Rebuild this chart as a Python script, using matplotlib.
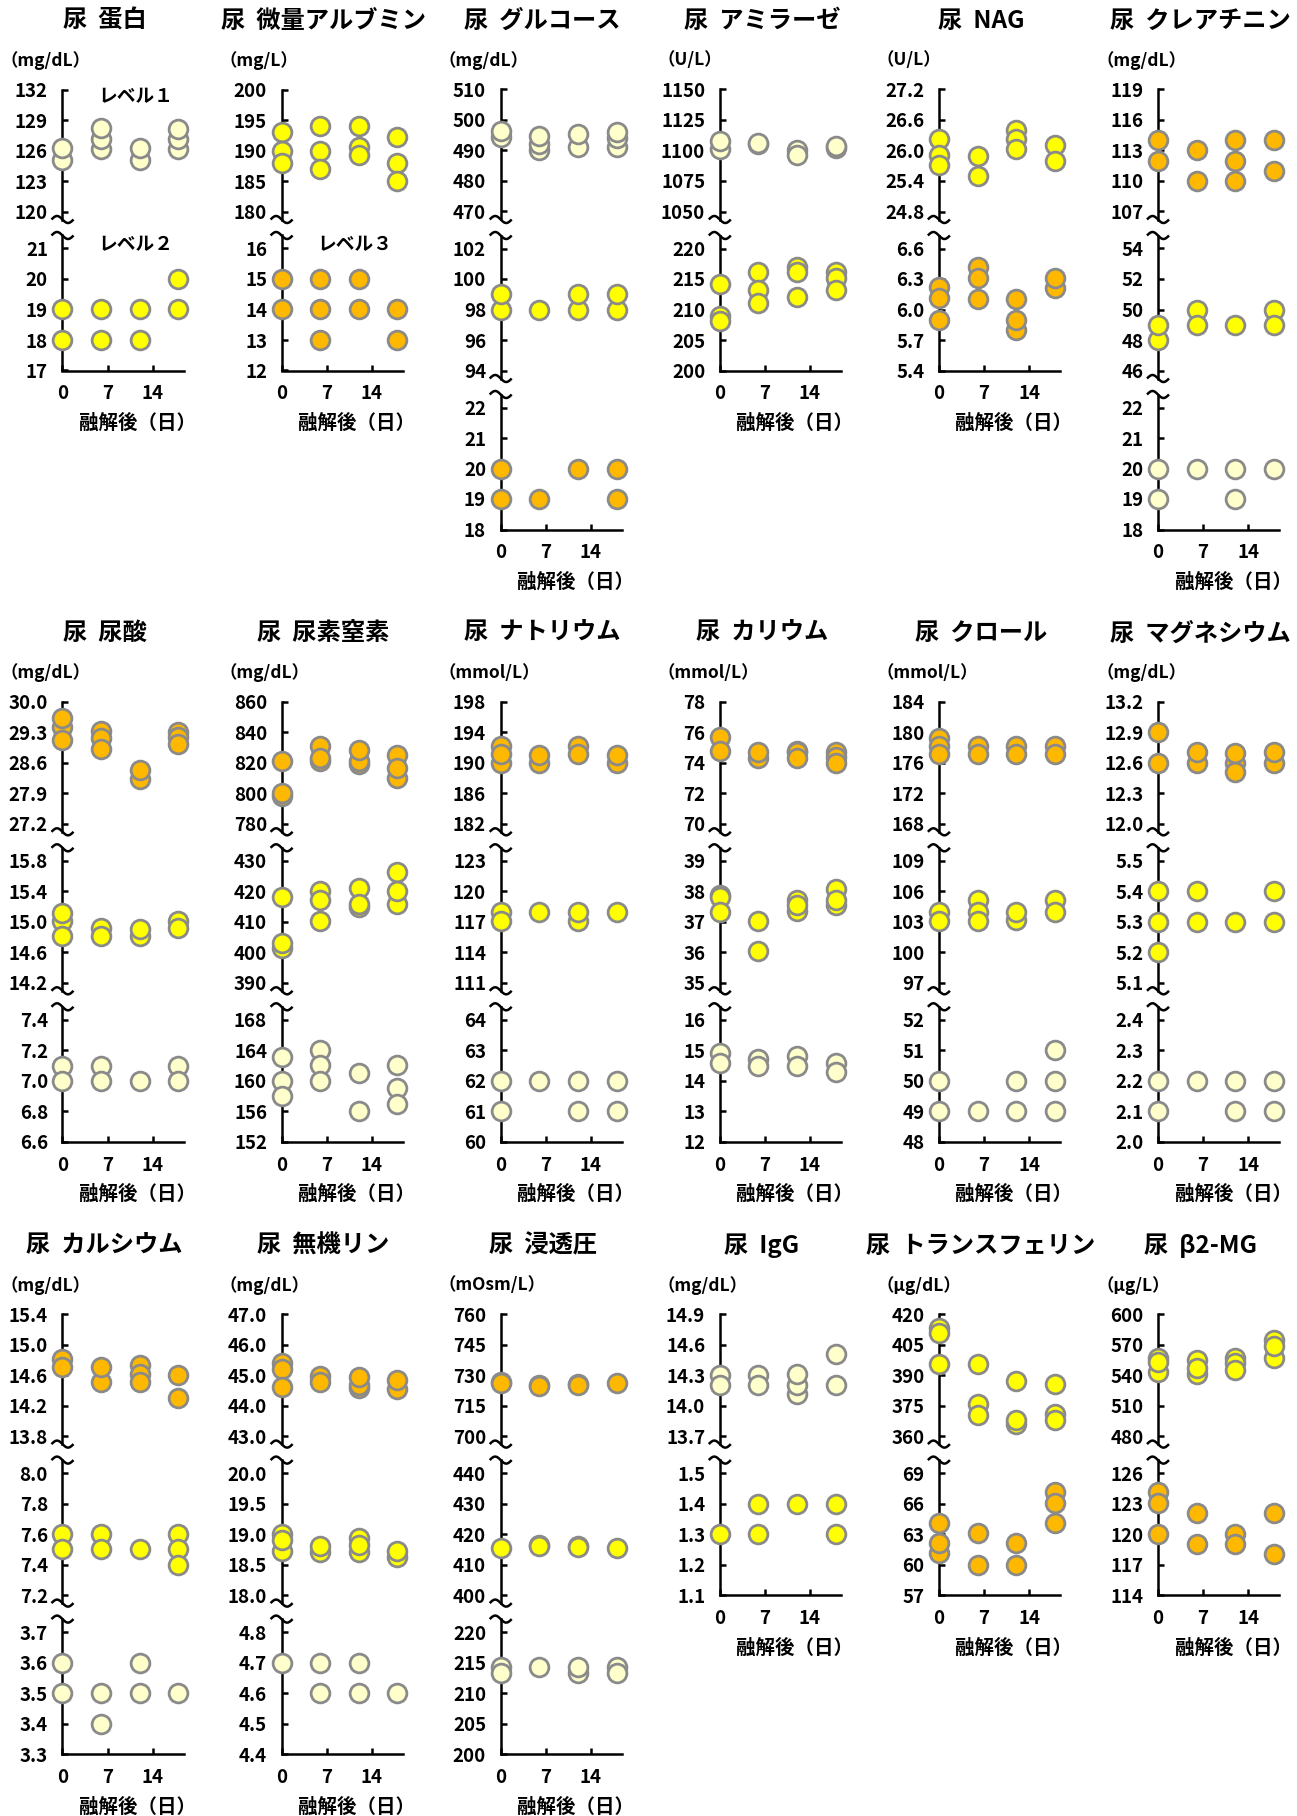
import matplotlib
matplotlib.use('Agg')
import matplotlib.pyplot as plt
import numpy as np
from matplotlib.lines import Line2D

plt.rcParams['font.family'] = ['Noto Sans CJK JP', 'DejaVu Sans']
plt.rcParams['font.weight'] = 'bold'

# ---------------- data ----------------
days = [0, 6, 12, 18]
xticks = [0, 7, 14]
xlabel = '融解後（日）'

# 尿 蛋白
protein_ticks_1 = ['120', '123', '126', '129', '132']
protein_ticks_2 = ['17', '18', '19', '20', '21']
protein_L1 = [[125.1, 126.2], [126.1, 127.1, 128.2], [125.1, 126.2], [126.1, 127.1, 128.1]]
protein_L2 = [[18, 19], [18, 19], [18, 19], [19, 20]]

# 尿 微量アルブミン
alb_ticks_1 = ['180', '185', '190', '195', '200']
alb_ticks_2 = ['12', '13', '14', '15', '16']
alb_L2 = [[193, 190, 188], [194, 190, 187], [194, 190.5, 189.2], [192.2, 188, 185]]
alb_L3 = [[15, 14], [15, 14, 13], [15, 14], [14, 13]]

# 尿 グルコース
glu_ticks_1 = ['470', '480', '490', '500', '510']
glu_ticks_2 = ['94', '96', '98', '100', '102']
glu_ticks_3 = ['18', '19', '20', '21', '22']
glu_L1 = [[494.5, 496.5], [490.2, 492.1, 494.6], [491, 495.5], [491, 494.2, 496]]
glu_L2 = [[98, 99], [98], [98, 99], [98, 99]]
glu_L3 = [[19, 20], [19], [20], [19, 20]]

# 尿 アミラーゼ
amy_ticks_1 = ['1050', '1075', '1100', '1125', '1150']
amy_ticks_2 = ['200', '205', '210', '215', '220']
amy_L1 = [[1101, 1108], [1105, 1106], [1100, 1096], [1102, 1104]]
amy_L2 = [[214.2, 208.9, 208.1], [216.1, 213.2, 211.1], [217, 216.2, 212.1], [216.2, 215.2, 213.2]]

# 尿 NAG
nag_ticks_1 = ['24.8', '25.4', '26.0', '26.6', '27.2']
nag_ticks_2 = ['5.4', '5.7', '6.0', '6.3', '6.6']
nag_L2 = [[26.22, 25.92, 25.71], [25.9, 25.5], [26.4, 26.22, 26.03], [26.1, 25.8]]
nag_L3 = [[6.22, 6.11, 5.9], [6.42, 6.31, 6.1], [5.8, 5.9, 6.1], [6.21, 6.31]]

# 尿 クレアチニン
cre_ticks_1 = ['107', '110', '113', '116', '119']
cre_ticks_2 = ['46', '48', '50', '52', '54']
cre_ticks_3 = ['18', '19', '20', '21', '22']
cre_L3 = [[114, 112], [113, 110], [114, 112, 110], [114, 111]]
cre_L2 = [[48, 49], [50, 49], [49], [50, 49]]
cre_L1 = [[20, 19], [20], [20, 19], [20]]

# 尿 尿酸
ua_ticks_1 = ['27.2', '27.9', '28.6', '29.3', '30.0']
ua_ticks_2 = ['14.2', '14.6', '15.0', '15.4', '15.8']
ua_ticks_3 = ['6.6', '6.8', '7.0', '7.2', '7.4']
ua_L3 = [[29.43, 29.62, 29.12], [29.34, 29.16, 28.92], [28.23, 28.43], [29.31, 29.2, 29.03]]
ua_L2 = [[15.01, 14.81, 15.11], [14.92, 14.81], [14.82, 14.91], [15.01, 14.92]]
ua_L1 = [[7.1, 7.0], [7.1, 7.0], [7.0], [7.1, 7.0]]

# 尿 尿素窒素
bun_ticks_1 = ['780', '800', '820', '840', '860']
bun_ticks_2 = ['390', '400', '410', '420', '430']
bun_ticks_3 = ['152', '156', '160', '164', '168']
bun_L3 = [[798, 800, 821.4], [821, 830.7, 823.4], [818.9, 821.4, 828.4], [810.3, 825.4, 816.6]]
bun_L2 = [[418.2, 401.4, 403.2], [420.1, 417.3, 410.3], [421.1, 415, 415.9], [416, 426.2, 420.1]]
bun_L1 = [[163.1, 160, 158], [164.1, 162.1, 160], [161, 156.1], [162.1, 159, 157]]

# 尿 ナトリウム
na_ticks_1 = ['182', '186', '190', '194', '198']
na_ticks_2 = ['111', '114', '117', '120', '123']
na_ticks_3 = ['60', '61', '62', '63', '64']
na_L3 = [[190, 192.2, 191.1], [190, 191], [192.2, 191.1], [190, 191]]
na_L2 = [[118, 117.1], [118], [117.1, 118], [118]]
na_L1 = [[62, 61], [62], [62, 61], [62, 61]]

# 尿 カリウム
k_ticks_1 = ['70', '72', '74', '76', '78']
k_ticks_2 = ['35', '36', '37', '38', '39']
k_ticks_3 = ['12', '13', '14', '15', '16']
k_L3 = [[75.7, 74.8], [74.3, 74.7], [74.8, 74.7, 74.3], [74.7, 74.4, 74.0]]
k_L2 = [[37.88, 37.8, 37.31], [37.03, 36.04], [37.37, 37.73, 37.54], [38.07, 37.56, 37.73]]
k_L1 = [[14.9, 14.6], [14.7, 14.5], [14.8, 14.5], [14.6, 14.3]]

# 尿 クロール
cl_ticks_1 = ['168', '172', '176', '180', '184']
cl_ticks_2 = ['97', '100', '103', '106', '109']
cl_ticks_3 = ['48', '49', '50', '51', '52']
cl_L3 = [[179.2, 178.2, 177.1], [178.2, 177.1], [178.2, 177.1], [178.2, 177.1]]
cl_L2 = [[104, 103.1], [105.1, 104, 103.1], [103.2, 104], [105.1, 104]]
cl_L1 = [[50, 49], [49], [50, 49], [51, 50, 49]]

# 尿 マグネシウム
mg_ticks_1 = ['12.0', '12.3', '12.6', '12.9', '13.2']
mg_ticks_2 = ['5.1', '5.2', '5.3', '5.4', '5.5']
mg_ticks_3 = ['2.0', '2.1', '2.2', '2.3', '2.4']
mg_L3 = [[12.9, 12.6], [12.6, 12.71], [12.6, 12.51, 12.7], [12.6, 12.71]]
mg_L2 = [[5.4, 5.3, 5.2], [5.4, 5.3], [5.3], [5.4, 5.3]]
mg_L1 = [[2.2, 2.1], [2.2], [2.2, 2.1], [2.2, 2.1]]

# 尿 カルシウム
ca_ticks_1 = ['13.8', '14.2', '14.6', '15.0', '15.4']
ca_ticks_2 = ['7.2', '7.4', '7.6', '7.8', '8.0']
ca_ticks_3 = ['3.3', '3.4', '3.5', '3.6', '3.7']
ca_L3 = [[14.81, 14.71], [14.51, 14.71], [14.73, 14.62, 14.51], [14.6, 14.3]]
ca_L2 = [[7.6, 7.5], [7.6, 7.5], [7.5], [7.6, 7.5, 7.4]]
ca_L1 = [[3.6, 3.5], [3.5, 3.4], [3.6, 3.5], [3.5]]

# 尿 無機リン
ip_ticks_1 = ['43.0', '44.0', '45.0', '46.0', '47.0']
ip_ticks_2 = ['18.0', '18.5', '19.0', '19.5', '20.0']
ip_ticks_3 = ['4.4', '4.5', '4.6', '4.7', '4.8']
ip_L3 = [[45.4, 45.21, 44.61], [44.96, 44.78], [44.59, 44.69, 44.94], [44.53, 44.84]]
ip_L2 = [[19.0, 18.72, 18.91], [18.71, 18.8], [18.94, 18.71, 18.82], [18.62, 18.72]]
ip_L1 = [[4.7], [4.7, 4.6], [4.7, 4.6], [4.6]]

# 尿 浸透圧
osm_ticks_1 = ['700', '715', '730', '745', '760']
osm_ticks_2 = ['400', '410', '420', '430', '440']
osm_ticks_3 = ['200', '205', '210', '215', '220']
osm_L3 = [[726.4, 726.0], [725.3, 724.7], [725.8, 725.3], [726.0]]
osm_L2 = [[415.3], [416.3, 416.0], [416.1, 415.7], [415.3]]
osm_L1 = [[214.2, 213.3], [214.2], [213.3, 214.2], [214.2, 213.3]]

# 尿 IgG
igg_ticks_1 = ['13.7', '14.0', '14.3', '14.6', '14.9']
igg_ticks_2 = ['1.1', '1.2', '1.3', '1.4', '1.5']
igg_L1 = [[14.3, 14.2], [14.3, 14.2], [14.11, 14.2, 14.31], [14.51, 14.2]]
igg_L2 = [[1.3], [1.4, 1.3], [1.4], [1.4, 1.3]]

# 尿 トランスフェリン
tf_ticks_1 = ['360', '375', '390', '405', '420']
tf_ticks_2 = ['57', '60', '63', '66', '69']
tf_L2 = [[413.1, 410.6, 395.5], [395.5, 376, 370.3], [387.2, 366.1, 368.1], [385.4, 371.1, 367.8]]
tf_L3 = [[64.1, 61.1, 62.1], [63.1, 60], [62.1, 60], [67.1, 66.05, 64.1]]

# 尿 β2-MG
b2_ticks_1 = ['480', '510', '540', '570', '600']
b2_ticks_2 = ['114', '117', '120', '123', '126']
b2_L2 = [[543.2, 556.4, 553], [540.6, 554.8, 546.5], [556.4, 551.5, 544.9], [556.4, 574.6, 569]]
b2_L3 = [[124.1, 123.05, 120], [122.1, 119], [120, 119], [122.1, 118]]

panels = [
    ('尿  蛋白', '（mg/dL）', [(protein_ticks_1, 1, protein_L1), (protein_ticks_2, 2, protein_L2)]),
    ('尿  微量アルブミン', '（mg/L）', [(alb_ticks_1, 2, alb_L2), (alb_ticks_2, 3, alb_L3)]),
    ('尿  グルコース', '（mg/dL）', [(glu_ticks_1, 1, glu_L1), (glu_ticks_2, 2, glu_L2), (glu_ticks_3, 3, glu_L3)]),
    ('尿  アミラーゼ', '（U/L）', [(amy_ticks_1, 1, amy_L1), (amy_ticks_2, 2, amy_L2)]),
    ('尿  NAG', '（U/L）', [(nag_ticks_1, 2, nag_L2), (nag_ticks_2, 3, nag_L3)]),
    ('尿  クレアチニン', '（mg/dL）', [(cre_ticks_1, 3, cre_L3), (cre_ticks_2, 2, cre_L2), (cre_ticks_3, 1, cre_L1)]),
    ('尿  尿酸', '（mg/dL）', [(ua_ticks_1, 3, ua_L3), (ua_ticks_2, 2, ua_L2), (ua_ticks_3, 1, ua_L1)]),
    ('尿  尿素窒素', '（mg/dL）', [(bun_ticks_1, 3, bun_L3), (bun_ticks_2, 2, bun_L2), (bun_ticks_3, 1, bun_L1)]),
    ('尿  ナトリウム', '（mmol/L）', [(na_ticks_1, 3, na_L3), (na_ticks_2, 2, na_L2), (na_ticks_3, 1, na_L1)]),
    ('尿  カリウム', '（mmol/L）', [(k_ticks_1, 3, k_L3), (k_ticks_2, 2, k_L2), (k_ticks_3, 1, k_L1)]),
    ('尿  クロール', '（mmol/L）', [(cl_ticks_1, 3, cl_L3), (cl_ticks_2, 2, cl_L2), (cl_ticks_3, 1, cl_L1)]),
    ('尿  マグネシウム', '（mg/dL）', [(mg_ticks_1, 3, mg_L3), (mg_ticks_2, 2, mg_L2), (mg_ticks_3, 1, mg_L1)]),
    ('尿  カルシウム', '（mg/dL）', [(ca_ticks_1, 3, ca_L3), (ca_ticks_2, 2, ca_L2), (ca_ticks_3, 1, ca_L1)]),
    ('尿  無機リン', '（mg/dL）', [(ip_ticks_1, 3, ip_L3), (ip_ticks_2, 2, ip_L2), (ip_ticks_3, 1, ip_L1)]),
    ('尿  浸透圧', '（mOsm/L）', [(osm_ticks_1, 3, osm_L3), (osm_ticks_2, 2, osm_L2), (osm_ticks_3, 1, osm_L1)]),
    ('尿  IgG', '（mg/dL）', [(igg_ticks_1, 1, igg_L1), (igg_ticks_2, 2, igg_L2)]),
    ('尿  トランスフェリン', '（μg/dL）', [(tf_ticks_1, 2, tf_L2), (tf_ticks_2, 3, tf_L3)]),
    ('尿  β2-MG', '（μg/L）', [(b2_ticks_1, 2, b2_L2), (b2_ticks_2, 3, b2_L3)]),
]

level_notes = [(0, 0, 'レベル１'), (0, 1, 'レベル２'), (1, 1, 'レベル３')]

# ---------------- style / layout ----------------
COLORS = {1: '#FFFFCC', 2: '#FFFF00', 3: '#FFB800'}
EDGE = '#8A8A8A'
W, H = 1297, 1816

AX_X0, COL_STEP = 62.5, 219.1
ROW_TOP0, ROW_STEP = 89.5, 612.3
SUB_H, SUB_STEP = 122.0, 159.0
EXT_TOP, EXT_BOT = 13.0, 8.0
AX_W = 121.0
XMAX = 18.8
LW = 1.8

fig = plt.figure(figsize=(W / 100, H / 100), dpi=100)


def fx(px):
    return px / W


def fy(py):
    return 1 - py / H


def tilde(xc, yc):
    t = np.linspace(0, 1, 60)
    xs = xc - 11 + 22 * t
    ys = yc - 3.5 * np.sin(2 * np.pi * t)
    fig.add_artist(Line2D(fx(xs), fy(ys), transform=fig.transFigure,
                          color='black', lw=LW, solid_capstyle='butt'))


for p, (title, unit, subs) in enumerate(panels):
    r, c = divmod(p, 6)
    ax_x = AX_X0 + c * COL_STEP
    row_top = ROW_TOP0 + r * ROW_STEP
    n = len(subs)
    for k, (tick_labels, level, values) in enumerate(subs):
        top_px = row_top + k * SUB_STEP
        ext_t = EXT_TOP if k > 0 else 0.0
        ext_b = EXT_BOT if k < n - 1 else 0.0
        rect = [fx(ax_x), fy(top_px + SUB_H + ext_b), AX_W / W, (SUB_H + ext_t + ext_b) / H]
        ax = fig.add_axes(rect)
        ticks = [float(s) for s in tick_labels]
        lo, hi = ticks[0], ticks[-1]
        dpp = (hi - lo) / SUB_H
        ax.set_ylim(lo - ext_b * dpp, hi + ext_t * dpp)
        ax.set_xlim(0, XMAX)
        ax.patch.set_alpha(0)
        for s in ['top', 'right']:
            ax.spines[s].set_visible(False)
        ax.spines['left'].set_linewidth(LW)
        ax.spines['bottom'].set_linewidth(LW)
        ax.spines['bottom'].set_visible(k == n - 1)
        ax.set_yticks(ticks)
        ax.set_yticklabels(tick_labels)
        ax.tick_params(axis='y', direction='in', length=4.5, width=LW, pad=10.5,
                       labelsize=13.5)
        if k == n - 1:
            ax.set_xticks(xticks)
            ax.set_xticklabels([str(v) for v in xticks])
            ax.tick_params(axis='x', direction='in', length=4, width=LW, pad=10,
                           labelsize=13.5)
        else:
            ax.set_xticks([])
        for lab in ax.get_yticklabels() + ax.get_xticklabels():
            lab.set_fontweight('bold')
        xs, ys = [], []
        for d, vals in zip(days, values):
            for v in vals:
                xs.append(d)
                ys.append(v)
        ax.plot(xs, ys, 'o', ms=13.5, mfc=COLORS[level], mec=EDGE, mew=2.0,
                clip_on=False, zorder=5, ls='none')
        if k < n - 1:
            tilde(ax_x, top_px + SUB_H + EXT_BOT)
            tilde(ax_x, top_px + SUB_STEP - EXT_TOP)
    bottom_px = row_top + (n - 1) * SUB_STEP + SUB_H
    fig.text(fx(ax_x + 42), fy(row_top - 68.5), title, ha='center', va='center',
             fontsize=17.5, fontweight='bold')
    fig.text(fx(ax_x - 62), fy(row_top - 29), unit, ha='left', va='center',
             fontsize=12.5, fontweight='bold')
    fig.text(fx(ax_x + 75), fy(bottom_px + 53), xlabel, ha='center', va='center',
             fontsize=14, fontweight='bold')

for p, k, txt in level_notes:
    r, c = divmod(p, 6)
    ax_x = AX_X0 + c * COL_STEP
    row_top = ROW_TOP0 + r * ROW_STEP
    yy = row_top + 7.5 if k == 0 else row_top + k * SUB_STEP - 3.5
    fig.text(fx(ax_x + 73), fy(yy), txt, ha='center', va='center',
             fontsize=13.5, fontweight='bold')

fig.savefig('out.png', dpi=100, facecolor='white')
